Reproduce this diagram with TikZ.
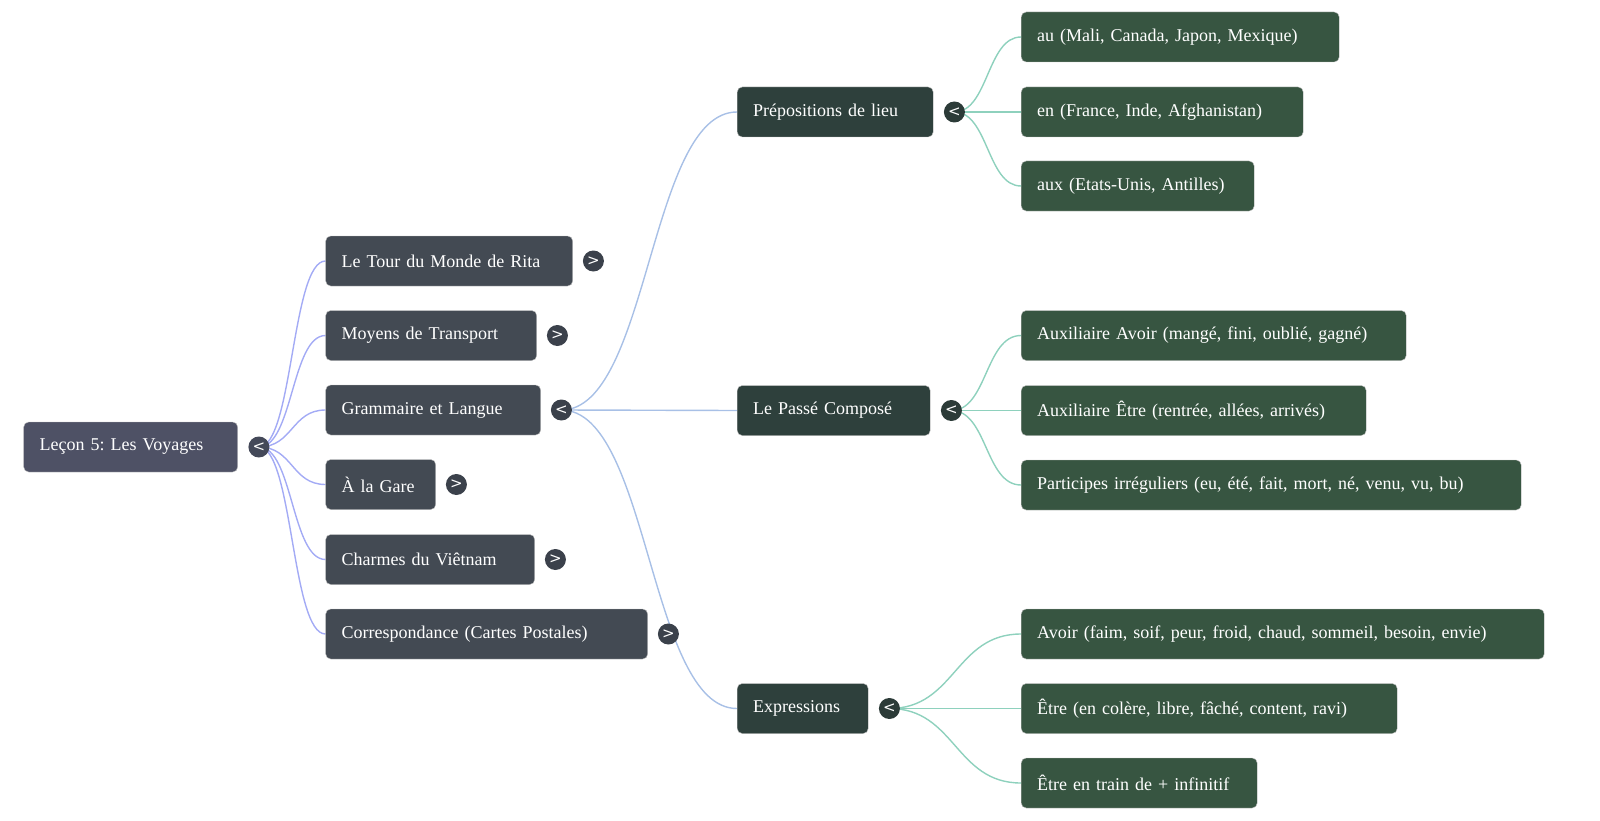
\documentclass[tikz,border=0pt]{standalone}
\usepackage{fontspec}
\setmainfont{Liberation Serif}
\newfontfamily\togfont{DejaVu Sans}
\usetikzlibrary{backgrounds}
\frenchspacing
\definecolor{crootf}{HTML}{4E5165}
\definecolor{conef}{HTML}{434A53}
\definecolor{ctwof}{HTML}{2E403C}
\definecolor{cthreef}{HTML}{375541}
\definecolor{tgroot}{HTML}{444959}
\definecolor{tgone}{HTML}{3B414B}
\definecolor{tgtwo}{HTML}{2C3B38}
\definecolor{eone}{HTML}{A3ABF5}
\definecolor{etwo}{HTML}{A8C0E6}
\definecolor{ethree}{HTML}{8ED1BD}
\tikzset{
  boxbase/.style={rounded corners=5pt, anchor=west, minimum height=50, inner xsep=16, inner ysep=0, text=white, align=left, font=\fontsize{18}{21}\selectfont, draw=white!75!black, line width=0.4pt},
  rootbox/.style={boxbase, fill=crootf},
  onebox/.style={boxbase, fill=conef},
  twobox/.style={boxbase, fill=ctwof},
  threebox/.style={boxbase, fill=cthreef},
  tog/.style={circle, minimum size=21, inner sep=0, text=white, font=\togfont\fontsize{15}{15}\selectfont},
  edgeone/.style={draw=eone, line width=1.4pt},
  edgetwo/.style={draw=etwo, line width=1.4pt},
  edgethree/.style={draw=ethree, line width=1.4pt},
}
\begin{document}
\begin{tikzpicture}[x=1pt,y=-1pt]
\useasboundingbox (0,0) rectangle (1600,821);
\node[rootbox, text width=182] (root) at (23.5,447) {Leçon 5: Les Voyages};
% level 1
\node[onebox, text width=215] (l1a) at (325.5,261) {Le Tour du Monde de Rita};
\node[onebox, text width=179] (l1b) at (325.5,335.5) {Moyens de Transport};
\node[onebox, text width=183] (l1c) at (325.5,410) {Grammaire et Langue};
\node[onebox, text width=78] (l1d) at (325.5,484.5) {À la Gare};
\node[onebox, text width=177] (l1e) at (325.5,559.5) {Charmes du Viêtnam};
\node[onebox, text width=290] (l1f) at (325.5,634) {Correspondance (Cartes Postales)};
% level 2
\node[twobox, text width=164] (l2a) at (737,112) {Prépositions de lieu};
\node[twobox, text width=161] (l2b) at (737,410.5) {Le Passé Composé};
\node[twobox, text width=99] (l2c) at (737,708.5) {Expressions};
% level 3
\node[threebox, text width=286] (l3a) at (1021,37) {au (Mali, Canada, Japon, Mexique)};
\node[threebox, text width=250] (l3b) at (1021,112) {en (France, Inde, Afghanistan)};
\node[threebox, text width=201] (l3c) at (1021,186) {aux (Etats-Unis, Antilles)};
\node[threebox, text width=353] (l3d) at (1021,335.5) {Auxiliaire Avoir (mangé, fini, oublié, gagné)};
\node[threebox, text width=313] (l3e) at (1021,410.5) {Auxiliaire Être (rentrée, allées, arrivés)};
\node[threebox, text width=468] (l3f) at (1021,485) {Participes irréguliers (eu, été, fait, mort, né, venu, vu, bu)};
\node[threebox, text width=491] (l3g) at (1021,634) {Avoir (faim, soif, peur, froid, chaud, sommeil, besoin, envie)};
\node[threebox, text width=344] (l3h) at (1021,708.5) {Être (en colère, libre, fâché, content, ravi)};
\node[threebox, text width=204] (l3i) at (1021,783) {Être en train de + infinitif};
% toggles
\node[tog, fill=tgroot] (troot) at ([xshift=21]root.east) {<};
\node[tog, fill=tgone] (t1a) at ([xshift=20.5]l1a.east) {>};
\node[tog, fill=tgone] (t1b) at ([xshift=20.5]l1b.east) {>};
\node[tog, fill=tgone] (t1c) at ([xshift=20.5]l1c.east) {<};
\node[tog, fill=tgone] (t1d) at ([xshift=20.5]l1d.east) {>};
\node[tog, fill=tgone] (t1e) at ([xshift=20.5]l1e.east) {>};
\node[tog, fill=tgone] (t1f) at ([xshift=20.5]l1f.east) {>};
\node[tog, fill=tgtwo] (t2a) at ([xshift=21]l2a.east) {<};
\node[tog, fill=tgtwo] (t2b) at ([xshift=21]l2b.east) {<};
\node[tog, fill=tgtwo] (t2c) at ([xshift=21]l2c.east) {<};
% edges behind
\begin{pgfonlayer}{background}
\foreach \c in {l1a,l1b,l1c,l1d,l1e,l1f}
  \draw[edgeone] (troot.center) .. controls +(34,0) and +(-34,0) .. (\c.west);
\foreach \c in {l2a,l2b,l2c}
  \draw[edgetwo] (t1c.center) .. controls +(88,0) and +(-88,0) .. (\c.west);
\foreach \c in {l3a,l3b,l3c}
  \draw[edgethree] (t2a.center) .. controls +(34,0) and +(-34,0) .. (\c.west);
\foreach \c in {l3d,l3e,l3f}
  \draw[edgethree] (t2b.center) .. controls +(36,0) and +(-36,0) .. (\c.west);
\foreach \c in {l3g,l3h,l3i}
  \draw[edgethree] (t2c.center) .. controls +(66,0) and +(-66,0) .. (\c.west);
\end{pgfonlayer}
\end{tikzpicture}
\end{document}
